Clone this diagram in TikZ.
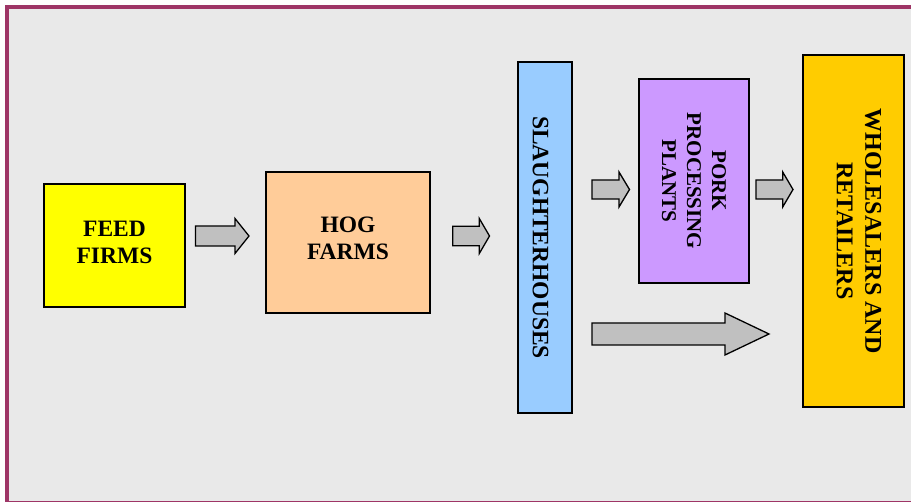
\documentclass[tikz,border=0pt]{standalone}
\usepackage{fontspec}
\setmainfont{Liberation Serif}
\definecolor{frame}{HTML}{9E3566}
\definecolor{bg}{HTML}{E9E9E9}
\definecolor{feed}{HTML}{FFFF00}
\definecolor{hog}{HTML}{FFCC99}
\definecolor{slau}{HTML}{99CCFF}
\definecolor{pork}{HTML}{CC99FF}
\definecolor{whole}{HTML}{FFCC00}
\definecolor{arrowfill}{HTML}{C0C0C0}
\tikzset{
  box/.style={draw=black, line width=1.6pt, rectangle, inner sep=0pt},
  lbl/.style={font=\bfseries\fontsize{23.5}{27}\selectfont, align=center, text=black, inner sep=0pt},
  blk/.style={draw=black, fill=arrowfill, line width=1.3pt, line join=miter}
}
% \blockarrow{x start}{x head start}{x tip}{y center}{shaft half}{head half}
\newcommand{\blockarrow}[6]{%
  \draw[blk] (#1,#4-#5) -- (#2,#4-#5) -- (#2,#4-#6) -- (#3,#4) -- (#2,#4+#6) -- (#2,#4+#5) -- (#1,#4+#5) -- cycle;}
\begin{document}
\begin{tikzpicture}[x=1pt,y=-1pt]
\useasboundingbox (0,0) rectangle (911,502);
\clip (0,0) rectangle (911,502);
\fill[white] (0,0) rectangle (911,502);
\draw[frame, fill=bg, line width=3.6pt] (6.8,6.8) rectangle (914,502.8);

\node[box, fill=feed, minimum width=141pt, minimum height=123pt] (feed) at (114.5,245.5) {};
\node[lbl] (feedt) at (114.5,242) {FEED\\FIRMS};

\node[box, fill=hog, minimum width=164pt, minimum height=141pt] (hog) at (348,242.5) {};
\node[lbl] (hogt) at (348,238) {HOG\\FARMS};

\node[box, fill=slau, minimum width=54pt, minimum height=351pt] (slau) at (545,237.5) {};
\node[lbl, rotate=-90] (slaut) at (540.5,237.5) {SLAUGHTERHOUSES};

\node[box, fill=pork, minimum width=110pt, minimum height=204pt] (pork) at (694,181) {};
\node[lbl, rotate=-90, font=\bfseries\fontsize{21}{25}\selectfont] (porkt) at (694,181) {PORK\\PROCESSING\\PLANTS};

\node[box, fill=whole, minimum width=101pt, minimum height=352pt] (whole) at (853.5,231) {};
\node[lbl, rotate=-90, font=\bfseries\fontsize{24}{28.5}\selectfont] (wholet) at (859,231) {WHOLESALERS AND\\RETAILERS};

\blockarrow{195.5}{235}{249}{236}{10}{17.5}
\blockarrow{452.7}{479.3}{489.5}{236}{9.7}{17.5}
\blockarrow{592}{619}{629.5}{189.5}{9.5}{17.5}
\blockarrow{756}{782.7}{793}{189.5}{9.5}{17.5}
\blockarrow{592}{725}{769}{334}{11}{21}
\end{tikzpicture}
\end{document}
